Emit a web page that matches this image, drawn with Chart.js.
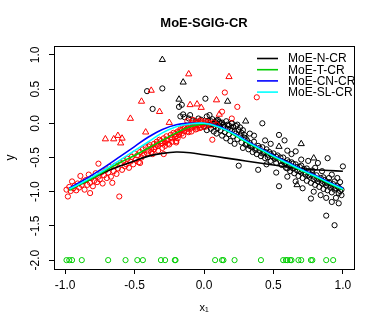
<!DOCTYPE html>
<html>
<head>
<meta charset="utf-8">
<script src="https://cdn.jsdelivr.net/npm/chart.js@4.4.1/dist/chart.umd.min.js"></script>
<style>
  html, body { margin: 0; padding: 0; background: #fff; }
  canvas { display: block; }
</style>
</head>
<body>
<canvas id="chart" width="382" height="327"></canvas>
<script>
// tick labels
const xTicks = [-1, -0.5, 0, 0.5, 1];
const yTicks = [-2, -1.5, -1, -0.5, 0, 0.5, 1];

// fitted curves (sampled at curveX)
const seriesNames = ["MoE-N-CR", "MoE-T-CR", "MoE-CN-CR", "MoE-SL-CR"];
const curveX = [-0.97, -0.9, -0.8, -0.7, -0.6, -0.5, -0.4, -0.3, -0.2, -0.1, 0, 0.1, 0.2, 0.3, 0.4, 0.5, 0.6, 0.7, 0.8, 0.9, 1.0];
const curveN  = [-0.97, -0.90, -0.80, -0.70, -0.62, -0.55, -0.48, -0.44, -0.42, -0.43, -0.46, -0.49, -0.52, -0.55, -0.58, -0.61, -0.64, -0.66, -0.68, -0.69, -0.70];
const curveT  = [-0.98, -0.90, -0.80, -0.68, -0.57, -0.47, -0.36, -0.25, -0.14, -0.05, -0.01, -0.05, -0.15, -0.27, -0.38, -0.49, -0.59, -0.69, -0.78, -0.88, -0.97];
const curveCN = [-0.95, -0.87, -0.75, -0.62, -0.48, -0.34, -0.20, -0.09, -0.02, 0.00, 0.00, -0.04, -0.13, -0.25, -0.36, -0.47, -0.57, -0.67, -0.76, -0.86, -0.95];
const curveSL = [-0.96, -0.89, -0.78, -0.66, -0.53, -0.40, -0.27, -0.14, -0.05, -0.01, 0.00, -0.05, -0.14, -0.26, -0.37, -0.48, -0.58, -0.68, -0.77, -0.87, -0.96];

// observations
const redCircles = [
  [-0.99,-0.97],[-0.98,-1.07],[-0.97,-0.93],[-0.96,-0.99],[-0.95,-0.85],[-0.94,-0.95],[-0.93,-0.91],[-0.92,-0.98],
  [-0.91,-0.88],[-0.90,-0.94],[-0.89,-0.77],[-0.88,-0.90],[-0.87,-0.85],[-0.86,-0.97],[-0.85,-0.83],[-0.84,-0.90],
  [-0.83,-0.75],[-0.82,-1.02],[-0.82,-0.87],[-0.81,-0.80],[-0.80,-0.92],[-0.79,-0.84],[-0.78,-0.73],[-0.77,-0.86],
  [-0.76,-0.78],[-0.76,-0.59],[-0.75,-0.82],[-0.74,-0.72],[-0.73,-0.88],[-0.72,-0.76],[-0.71,-0.69],[-0.70,-0.80],
  [-0.69,-0.72],[-0.68,-0.64],[-0.67,-0.78],[-0.66,-0.87],[-0.65,-0.70],[-0.64,-0.62],[-0.63,-0.74],[-0.62,-0.66],
  [-0.61,-1.07],[-0.60,-0.58],[-0.59,-0.68],[-0.58,-0.55],[-0.57,-0.63],[-0.56,-0.60],[-0.55,-0.52],[-0.54,-0.65],
  [-0.53,-0.56],[-0.52,-0.49],[-0.51,-0.60],[-0.50,-0.44],[-0.49,-0.53],[-0.48,-0.47],[-0.47,-0.57],[-0.46,-0.42],
  [-0.45,-0.50],[-0.44,-0.38],[-0.43,-0.46],[-0.42,-0.35],[-0.41,-0.44],[-0.40,-0.40],[-0.39,-0.32],[-0.38,-0.37],
  [-0.37,-0.45],[-0.36,-0.30],[-0.35,-0.35],[-0.34,-0.27],[-0.33,-0.33],[-0.32,-0.24],[-0.31,-0.30],[-0.30,-0.36],
  [-0.29,-0.22],[-0.28,-0.28],[-0.27,-0.19],[-0.26,-0.25],[-0.25,-0.31],[-0.24,-0.17],[-0.23,-0.22],[-0.22,-0.14],
  [-0.21,-0.20],[-0.20,-0.26],[-0.19,-0.12],[-0.18,-0.17],[-0.17,-0.09],[-0.16,-0.15],[-0.15,-0.06],[-0.14,-0.11],
  [-0.13,-0.03],[-0.12,-0.08],[-0.11,-0.13],[-0.10,-0.02],[-0.09,-0.06],[-0.08,0.01],[-0.07,-0.04],[-0.06,-0.09],
  [-0.05,0.02],[-0.04,-0.03],[-0.03,-0.07],[-0.02,0.03],[-0.01,-0.02],[0.00,0.00],[0.01,-0.05],[0.03,0.02],
  [0.05,-0.03],[0.07,0.01],[0.09,-0.02],[0.13,0.17],[0.15,0.45],[0.20,0.07],[0.24,0.24],[0.38,0.38],
  [-0.44,-0.47],[-0.20,-0.28],[-0.46,-0.58],[0.06,-0.24],[-0.29,-0.45],
  [-0.40,-0.34],[-0.38,-0.42],[-0.36,-0.38],[-0.34,-0.31],[-0.33,-0.40],[-0.31,-0.26],[-0.30,-0.29],[-0.28,-0.33],
  [-0.27,-0.24],[-0.26,-0.30],[-0.24,-0.21],[-0.23,-0.27],[-0.21,-0.16],[-0.20,-0.19],[-0.19,-0.22],[-0.18,-0.13],
  [-0.16,-0.10],[-0.15,-0.18],[-0.14,-0.07],[-0.12,-0.12],[-0.11,-0.04],[-0.10,-0.08],[-0.09,-0.12],[-0.08,-0.05],
  [-0.07,-0.01],[-0.06,-0.05],[-0.05,-0.08],[-0.04,0.00],[-0.03,-0.03],[-0.02,-0.06],[-0.01,0.01],[0.02,-0.02],
  [0.04,0.00],[-0.12,0.03],[-0.08,0.05],[-0.03,0.04],[0.01,0.03]
];
const blackCircles = [
  [-0.41,0.47],[-0.30,0.51],[-0.37,0.21],[-0.16,0.27],[-0.18,0.24],[-0.15,0.13],[-0.17,0.10],[-0.14,0.09],
  [-0.11,0.07],[-0.10,0.12],[-0.08,0.04],[-0.06,0.03],[-0.04,0.07],[-0.02,0.05],[0.01,0.36],[0.02,0.10],
  [0.03,0.04],[0.04,0.12],[0.06,0.06],[0.08,0.02],[0.10,0.05],[0.12,0.00],[0.14,-0.02],[0.16,0.03],
  [0.18,-0.03],[0.20,0.00],[0.23,-0.04],[0.26,-0.06],[0.42,0.00],
  [0.00,-0.05],[0.02,-0.10],[0.04,-0.02],[0.05,-0.08],[0.07,-0.12],[0.08,-0.04],[0.09,-0.15],[0.10,-0.07],
  [0.11,0.02],[0.12,-0.10],[0.13,-0.18],[0.14,-0.05],[0.15,-0.13],[0.16,-0.22],[0.17,-0.08],[0.18,-0.16],
  [0.19,-0.26],[0.20,-0.11],[0.21,-0.19],[0.22,-0.30],[0.23,-0.15],[0.24,-0.23],[0.25,-0.62],[0.26,-0.18],
  [0.27,-0.28],[0.28,-0.36],[0.29,-0.21],[0.30,-0.31],[0.31,-0.25],[0.32,-0.38],[0.33,-0.29],[0.34,-0.34],
  [0.35,-0.42],[0.36,-0.27],[0.37,-0.36],[0.38,-0.45],[0.39,-0.68],[0.39,-0.33],[0.40,-0.40],[0.41,-0.48],
  [0.42,-0.35],[0.43,-0.43],[0.44,-0.51],[0.45,-0.38],[0.46,-0.46],[0.47,-0.42],[0.48,-0.55],[0.49,-0.48],
  [0.50,-0.44],[0.51,-0.52],[0.52,-0.58],[0.53,-0.47],[0.54,-0.17],[0.54,-0.92],[0.55,-0.55],[0.56,-0.61],
  [0.57,-0.50],[0.58,-0.25],[0.58,-0.58],[0.59,-0.65],[0.60,-0.54],[0.61,-0.62],[0.62,-0.70],[0.63,-0.57],
  [0.64,-0.66],[0.65,-0.73],[0.66,-0.41],[0.66,-0.60],[0.67,-0.69],[0.68,-0.77],[0.69,-0.64],[0.70,-0.72],
  [0.71,-0.80],[0.72,-0.67],[0.73,-0.75],[0.74,-0.84],[0.75,-0.70],[0.76,-0.78],[0.77,-1.10],[0.77,-0.87],
  [0.78,-0.73],[0.79,-0.82],[0.80,-0.90],[0.81,-0.76],[0.82,-0.58],[0.82,-0.85],[0.83,-0.93],[0.84,-0.80],
  [0.85,-0.88],[0.86,-0.96],[0.87,-0.83],[0.88,-1.35],[0.88,-1.09],[0.88,-0.91],[0.89,-0.51],[0.89,-0.98],
  [0.90,-0.86],[0.91,-0.94],[0.92,-1.01],[0.93,-0.89],[0.94,-1.49],[0.94,-0.97],[0.95,-1.09],[0.96,-0.92],
  [0.97,-1.02],[0.98,-0.86],[0.99,-0.97],[1.00,-0.63],[0.99,-1.05],
  [0.20,0.00],[0.24,-0.02],[0.28,-0.10],[0.33,-0.15],[0.36,-0.18],[0.44,-0.25],[0.48,-0.30],[0.60,-0.40],
  [0.63,-0.45],[0.70,-0.53],[0.75,-0.55],[0.80,-0.65],[0.85,-0.70],[0.92,-0.75],[0.96,-0.80],
  [0.45,-0.60],[0.52,-0.72],[0.60,-0.78],[0.66,-0.85],[0.71,-0.95],[0.79,-1.00],[0.84,-1.05],[0.92,-1.15],[0.97,-1.17],
  [0.31,-0.30],[0.33,-0.33],[0.35,-0.35],[0.37,-0.39],[0.40,-0.36],[0.42,-0.44],[0.44,-0.42],[0.46,-0.50],
  [0.48,-0.45],[0.50,-0.50],[0.52,-0.49],[0.55,-0.50],[0.57,-0.56],[0.59,-0.58],[0.61,-0.57],[0.63,-0.63],
  [0.65,-0.65],[0.67,-0.64],[0.69,-0.70],[0.71,-0.69],[0.73,-0.72],[0.75,-0.76],[0.77,-0.75],[0.79,-0.78],
  [0.81,-0.81],[0.83,-0.82],[0.85,-0.84],[0.87,-0.87],[0.89,-0.88],[0.91,-0.90],[0.93,-0.93],[0.95,-0.95],
  [0.97,-0.94],[0.98,-0.99],[0.60,-0.66],[0.64,-0.59],[0.70,-0.62],[0.74,-0.66],[0.78,-0.69],[0.86,-0.79],
  [0.90,-0.80],[0.94,-0.85],
  [0.05,0.03],[0.07,-0.01],[0.09,0.04],[0.11,-0.03],[0.13,0.01],[0.15,-0.06],[0.17,-0.02],[0.19,-0.09],
  [0.21,-0.05],[0.22,-0.12],[0.25,-0.10],[0.27,-0.14],[0.29,-0.17],[0.30,-0.22]
];
const redTriangles = [
  [-0.38,0.48],[-0.45,0.32],[-0.11,0.72],[0.18,0.68],[-0.32,0.17],[-0.10,0.27],[-0.05,0.28],[-0.02,0.23],
  [0.09,0.34],[0.11,0.13],[-0.53,0.07],[-0.42,-0.13],[-0.71,-0.23],[-0.65,-0.23],[-0.62,-0.18],[-0.59,-0.22],
  [-0.60,-0.29],[-0.25,0.01]
];
const blackTriangles = [
  [-0.30,0.93],[-0.15,0.60],[-0.18,0.35],[0.17,0.32],[0.30,0.03],[0.54,-0.34],[0.70,-0.30],[0.79,-0.51],[0.67,-0.90]
];
const greenX = [-0.99, -0.97, -0.95, -0.88, -0.69, -0.565, -0.48, -0.44, -0.31, -0.28, -0.21, -0.205, 0.08, 0.13, 0.14,
  0.22, 0.41, 0.57, 0.59, 0.60, 0.62, 0.63, 0.68, 0.70, 0.77, 0.78, 0.88, 0.93];
const greenY = -2;

const BLACK = "#000000", RED = "#FF0000", GREEN = "#00CD00", BLUE = "#0000FF", CYAN = "#00FFFF";
const lineColors = [BLACK, GREEN, BLUE, CYAN];
const curves = [curveN, curveT, curveCN, curveSL];
const drawOrder = [3, 2, 1, 0]; // lower = drawn later (on top)

const toPts = (arr) => arr.map(([x, y]) => ({ x, y }));

const datasets = [];
curves.forEach((c, i) => {
  datasets.push({
    label: seriesNames[i],
    data: curveX.map((x, j) => ({ x, y: c[j] })),
    order: drawOrder[i],
    showLine: true,
    borderColor: lineColors[i],
    borderWidth: 1.6,
    pointRadius: 0,
    tension: 0.4,
    fill: false,
  });
});
const pointSet = (label, data, color, style, r) => ({
  label,
  data,
  order: 10,
  showLine: false,
  pointStyle: style,
  pointRadius: r,
  pointBorderWidth: 1,
  borderColor: color,
  backgroundColor: "rgba(0,0,0,0)",
});
datasets.push(pointSet("redTri", toPts(redTriangles), RED, "triangle", 3.6));
datasets.push(pointSet("blackTri", toPts(blackTriangles), BLACK, "triangle", 3.6));
datasets.push(pointSet("red", toPts(redCircles), RED, "circle", 2.6));
datasets.push(pointSet("black", toPts(blackCircles), BLACK, "circle", 2.6));
datasets.push(pointSet("green", greenX.map((x) => ({ x, y: greenY })), GREEN, "circle", 2.6));

// box around the plot and the legend in the top-right corner
const boxLegend = {
  id: "boxLegend",
  afterDraw(chart) {
    const { ctx, chartArea: a } = chart;
    ctx.save();
    ctx.strokeStyle = "#000";
    ctx.lineWidth = 1;
    ctx.strokeRect(Math.round(a.left) + 0.5, Math.round(a.top) + 0.5,
      Math.round(a.right - a.left), Math.round(a.bottom - a.top));
    ctx.font = "12px 'Liberation Sans', Arial, sans-serif";
    ctx.textBaseline = "middle";
    ctx.textAlign = "left";
    seriesNames.forEach((name, i) => {
      const y = a.top + 12.5 + i * 11.2;
      ctx.strokeStyle = lineColors[i];
      ctx.lineWidth = 1.6;
      ctx.beginPath();
      ctx.moveTo(a.right - 97, y);
      ctx.lineTo(a.right - 76, y);
      ctx.stroke();
      ctx.fillStyle = "#000";
      ctx.fillText(name, a.right - 66, y + 0.5);
    });
    ctx.restore();
  },
};

const tickFont = { family: "'Liberation Sans', Arial, sans-serif", size: 12 };

new Chart(document.getElementById("chart"), {
  type: "scatter",
  data: { datasets },
  options: {
    responsive: false,
    animation: false,
    devicePixelRatio: 1,
    layout: { padding: { left: 0, right: 28, top: 0, bottom: 0 } },
    plugins: {
      legend: { display: false },
      tooltip: { enabled: false },
      title: {
        display: true,
        text: "MoE-SGIG-CR",
        color: "#000",
        fullSize: false,
        font: { family: "'Liberation Sans', Arial, sans-serif", size: 13, weight: "bold" },
        padding: { top: 16, bottom: 14.4 },
      },
    },
    scales: {
      x: {
        type: "linear",
        min: -1.08,
        max: 1.08,
        afterBuildTicks: (s) => { s.ticks = xTicks.map((v) => ({ value: v })); },
        afterFit: (s) => { s.height = 58; },
        border: { display: false },
        grid: { drawOnChartArea: false, drawTicks: true, tickLength: 5, color: "#000", tickColor: "#000" },
        ticks: { color: "#000", font: tickFont, padding: 4, maxRotation: 0, callback: (v) => v.toFixed(1) },
        title: { display: true, text: "x₁", color: "#000", font: { family: "'Liberation Sans', Arial, sans-serif", size: 11 }, padding: { top: 0, bottom: 12 } },
      },
      y: {
        type: "linear",
        min: -2.13,
        max: 1.13,
        afterBuildTicks: (s) => { s.ticks = yTicks.map((v) => ({ value: v })); },
        afterFit: (s) => { s.width = 54; },
        border: { display: false },
        grid: { drawOnChartArea: false, drawTicks: true, tickLength: 5, color: "#000", tickColor: "#000" },
        ticks: { color: "#000", font: tickFont, padding: 3, minRotation: 90, maxRotation: 90, crossAlign: "center", callback: (v) => v.toFixed(1) },
        title: { display: true, text: "y", color: "#000", font: { family: "'Liberation Sans', Arial, sans-serif", size: 12 }, padding: { top: 3, bottom: 0 } },
      },
    },
  },
  plugins: [boxLegend],
});
</script>
</body>
</html>
